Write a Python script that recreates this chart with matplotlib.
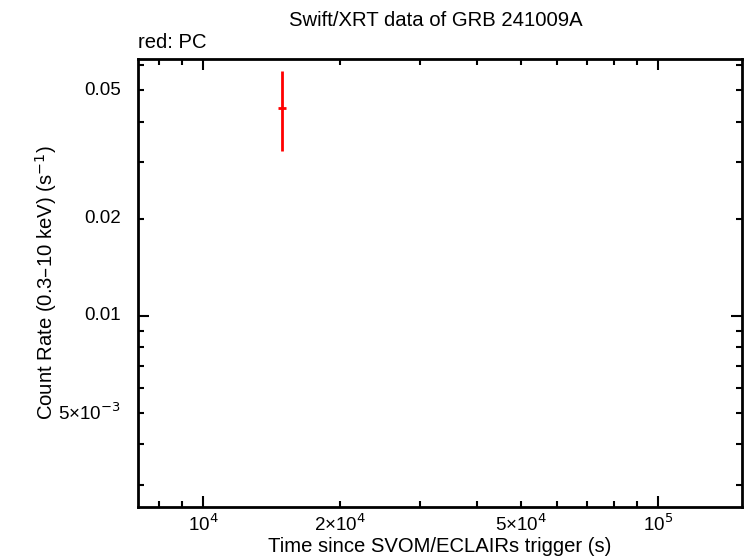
import numpy as np
import matplotlib.pyplot as plt
from matplotlib.ticker import FixedLocator, NullFormatter

plt.rcParams['font.family'] = ['Liberation Sans', 'DejaVu Sans']

# PC data (time, half-widths, rate, errors)
t = [14940]
t_lo = [300]
t_hi = [310]
rate = [0.0440]
rate_lo = [0.0116]
rate_hi = [0.0134]

x_ticks = [1e4, 2e4, 5e4, 1e5]
x_labels = ['10$^4$', '2×10$^4$', '5×10$^4$', '10$^5$']
y_ticks = [5e-3, 0.01, 0.02, 0.05]
y_labels = ['5×10$^{-3}$', '0.01', '0.02', '0.05']

fig = plt.figure(figsize=(7.46, 5.58), dpi=100)
ax = fig.add_axes([138/746, 1 - 507/558, (742-138)/746, (507-59)/558])

ax.errorbar(t, rate, xerr=[t_lo, t_hi], yerr=[rate_lo, rate_hi],
            fmt='none', ecolor='#ff0000', elinewidth=2, capsize=0)

ax.set_xscale('log')
ax.set_yscale('log')
ax.set_xlim(7200, 1.53e5)
ax.set_ylim(0.00256, 0.0625)

# major ticks only at decades, labelled minors at 2 and 5
ax.xaxis.set_major_locator(FixedLocator([1e4, 1e5]))
ax.xaxis.set_minor_locator(FixedLocator([8e3, 9e3, 2e4, 3e4, 4e4, 5e4, 6e4, 7e4, 8e4, 9e4]))
ax.yaxis.set_major_locator(FixedLocator([0.01]))
ax.yaxis.set_minor_locator(FixedLocator([3e-3, 4e-3, 5e-3, 6e-3, 7e-3, 8e-3, 9e-3,
                                         0.02, 0.03, 0.04, 0.05, 0.06]))
ax.xaxis.set_major_formatter(NullFormatter())
ax.xaxis.set_minor_formatter(NullFormatter())
ax.yaxis.set_major_formatter(NullFormatter())
ax.yaxis.set_minor_formatter(NullFormatter())

ax.tick_params(which='both', direction='in', top=True, right=True, width=1.5)
ax.tick_params(which='major', length=8)
ax.tick_params(which='minor', length=4)
for s in ax.spines.values():
    s.set_linewidth(2)

for xv, lab in zip(x_ticks, x_labels):
    ax.text(xv, -0.015, lab, transform=ax.get_xaxis_transform(), ha='center', va='top', fontsize=13.5)
for yv, lab in zip(y_ticks, y_labels):
    ax.text(-0.028, yv, lab, transform=ax.get_yaxis_transform(), ha='right', va='center', fontsize=13.5)

ax.set_xlabel('Time since SVOM/ECLAIRs trigger (s)', fontsize=14.6, va='center')
ax.xaxis.set_label_coords(0.5, -(546 - 507) / 448)
ax.set_ylabel('Count Rate (0.3\u201310 keV) (s$^{-1}$)', fontsize=14.6, va='center')
ax.yaxis.set_label_coords(-(138 - 46) / 604, 0.5)
fig.text(436/746, 1 - 20/558, 'Swift/XRT data of GRB 241009A', ha='center', va='center', fontsize=14.6)
fig.text(138/746, 1 - 42/558, 'red: PC', ha='left', va='center', fontsize=14.6)

fig.savefig('out.png', dpi=100)
